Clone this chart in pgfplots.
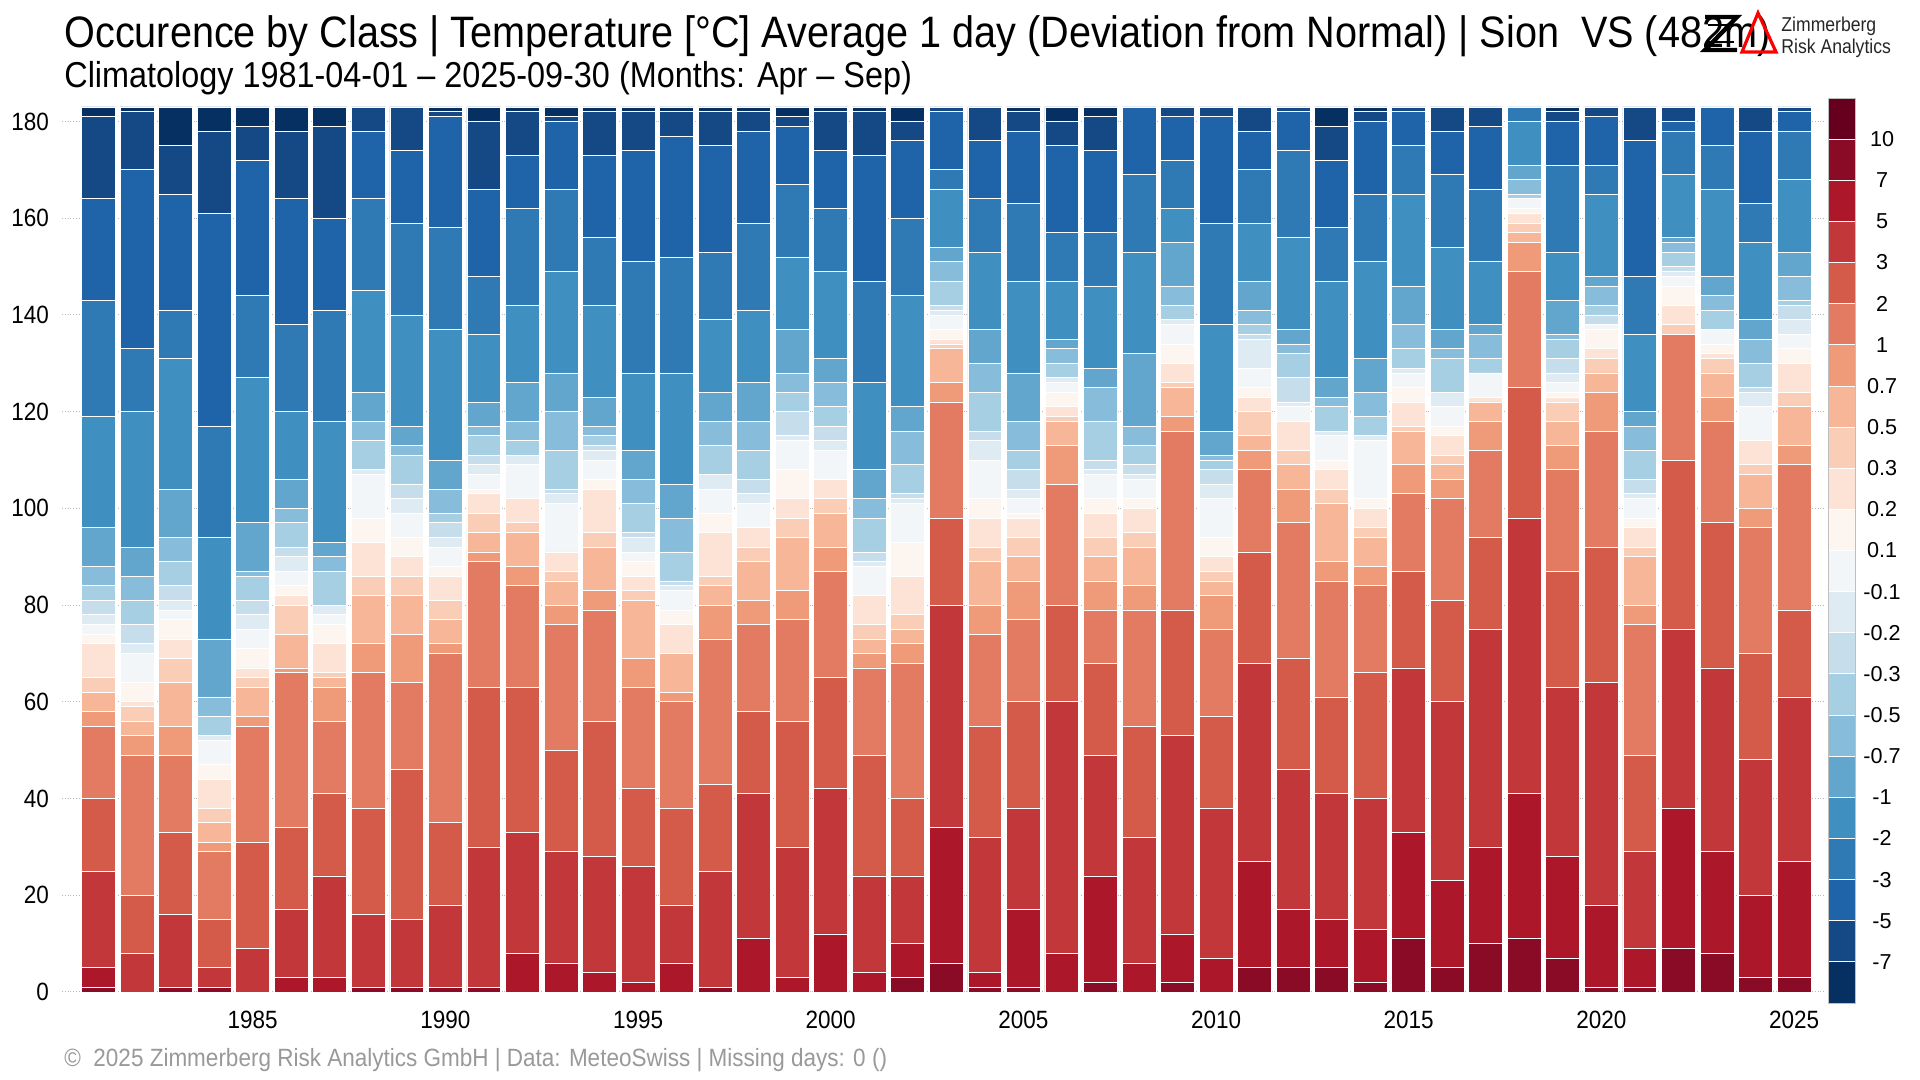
\documentclass[border=0pt]{standalone}
\usepackage{fontspec}
\setmainfont{Liberation Sans}[FakeStretch=0.9]
\newfontfamily\plainfont{Liberation Sans}
\newfontfamily\logofont{Liberation Sans}[FakeStretch=0.88]
\usepackage{pgfplots}
\pgfplotsset{compat=1.18}
\usepackage{pgfplotstable}

% class colours, warmest (>10) to coldest (<-7)
\definecolor{cl1}{HTML}{67001F}
\definecolor{cl2}{HTML}{8A0B25}
\definecolor{cl3}{HTML}{AC1729}
\definecolor{cl4}{HTML}{C1373A}
\definecolor{cl5}{HTML}{D45A4A}
\definecolor{cl6}{HTML}{E27B62}
\definecolor{cl7}{HTML}{EF9B7A}
\definecolor{cl8}{HTML}{F6B697}
\definecolor{cl9}{HTML}{F9CDB6}
\definecolor{cl10}{HTML}{FCE3D6}
\definecolor{cl11}{HTML}{FDF5F0}
\definecolor{cl12}{HTML}{F3F6F9}
\definecolor{cl13}{HTML}{DEEBF3}
\definecolor{cl14}{HTML}{C6DEEC}
\definecolor{cl15}{HTML}{A7CFE4}
\definecolor{cl16}{HTML}{87BDDA}
\definecolor{cl17}{HTML}{62A6CE}
\definecolor{cl18}{HTML}{3F8FC1}
\definecolor{cl19}{HTML}{2F79B5}
\definecolor{cl20}{HTML}{1F63A8}
\definecolor{cl21}{HTML}{144985}
\definecolor{cl22}{HTML}{053061}

% days per class and year (Apr-Sep, 183 days)
\pgfplotstableread{
year c1 c2 c3 c4 c5 c6 c7 c8 c9 c10 c11 c12 c13 c14 c15 c16 c17 c18 c19 c20 c21 c22
1981 0 1 4 20 15 15 3 4 3 7 2 2 2 3 3 4 8 23 24 21 17 2
1982 0 0 0 8 12 29 4 3 3 1 4 6 2 4 5 5 6 28 13 37 12 1
1983 0 1 0 15 17 16 6 9 5 4 4 2 2 3 5 5 10 27 10 24 10 8
1984 0 1 0 4 10 14 2 4 3 6 3 5 1 0 4 4 12 21 23 44 17 5
1985 0 0 0 9 22 24 2 6 2 2 4 4 3 3 5 1 10 30 17 28 7 4
1986 0 0 3 14 17 32 1 7 6 2 2 3 3 2 5 3 6 14 18 26 14 5
1987 0 0 3 21 17 15 7 2 1 6 4 2 2 0 7 3 3 25 23 19 19 4
1988 0 1 0 15 22 28 6 10 4 7 5 9 1 0 6 4 6 21 19 14 5 0
1989 0 1 0 14 31 18 10 8 4 4 4 5 3 3 6 2 4 23 19 15 9 0
1990 0 1 0 17 17 35 2 5 4 5 2 4 2 3 2 5 6 27 21 23 1 1
1991 0 1 0 29 33 26 2 4 4 4 1 3 2 2 4 2 5 14 12 18 14 3
1992 0 0 8 25 30 21 4 7 2 5 0 7 2 0 3 4 8 16 20 11 9 1
1993 0 0 6 23 21 26 4 5 2 4 0 10 2 1 8 8 8 21 17 14 1 2
1994 0 0 4 24 28 23 4 9 3 9 2 4 2 1 2 2 6 19 14 17 9 1
1995 0 0 2 24 16 21 6 12 2 3 3 2 3 1 6 5 6 16 23 23 8 1
1996 0 0 6 12 20 22 2 8 0 6 3 4 1 1 6 7 7 23 24 25 5 1
1997 0 1 0 24 18 30 7 4 2 9 4 5 3 0 6 5 6 15 14 22 7 1
1998 0 0 11 30 17 18 5 8 3 4 0 5 2 3 6 6 8 15 18 19 4 1
1999 0 0 3 27 26 21 6 11 4 4 6 6 1 5 4 4 9 15 15 12 2 2
2000 0 0 12 30 23 22 5 7 3 4 0 6 2 3 4 5 5 18 13 12 8 1
2001 0 0 4 20 25 18 3 3 3 6 0 6 1 2 7 4 6 18 21 26 9 1
2002 0 3 7 14 16 28 4 3 3 8 7 8 1 1 6 7 5 23 16 16 4 3
2003 0 6 28 46 18 24 4 7 1 1 2 3 1 1 5 4 3 12 4 12 1 0
2004 0 1 3 28 23 19 6 9 3 6 4 8 4 2 8 6 7 16 11 12 7 0
2005 0 1 16 21 22 17 8 5 4 4 1 3 2 4 4 6 10 19 16 15 4 1
2006 0 0 8 52 20 25 8 5 1 2 3 2 1 0 3 3 2 12 10 18 5 3
2007 0 2 22 25 19 11 6 5 4 5 3 5 1 2 8 7 4 17 11 17 7 2
2008 0 0 6 26 23 24 5 8 3 5 2 4 1 2 4 4 15 21 16 14 0 0
2009 0 2 10 41 26 37 3 6 1 4 4 4 1 0 3 4 9 7 10 9 2 0
2010 0 0 7 31 19 18 7 3 2 3 4 8 3 3 2 1 5 22 21 22 2 0
2011 0 5 22 41 23 17 4 3 5 3 2 4 6 1 2 3 6 12 11 8 5 0
2012 0 5 12 29 23 28 7 5 3 6 0 3 1 5 5 2 3 19 18 8 1 0
2013 0 5 10 26 20 24 4 12 3 4 2 5 1 0 5 2 4 20 11 14 7 4
2014 0 2 11 27 26 18 4 6 2 4 2 12 1 0 4 5 7 20 14 15 2 1
2015 0 11 22 34 20 16 6 7 1 5 3 3 1 0 4 5 8 19 10 7 1 0
2016 0 5 18 37 21 21 4 3 2 4 2 4 3 0 7 2 4 17 15 9 5 0
2017 0 10 20 45 19 18 6 4 0 1 0 5 0 0 3 5 2 13 15 13 4 0
2018 0 11 30 57 27 24 6 2 2 2 1 2 0 0 1 3 3 9 3 0 0 0
2019 0 7 21 35 24 21 5 5 4 1 1 2 2 3 4 1 7 10 18 9 2 1
2020 0 1 17 46 28 24 8 4 3 2 4 1 0 2 2 4 2 17 6 10 2 0
2021 0 1 8 20 20 27 4 10 2 4 2 4 1 3 6 5 3 16 12 28 7 0
2022 0 9 29 37 35 26 0 0 2 4 4 2 1 1 3 2 1 13 9 2 3 0
2023 0 8 21 38 30 21 5 5 3 1 2 3 0 0 4 3 4 18 9 8 0 0
2024 0 3 17 28 22 26 4 7 2 5 0 7 3 1 5 5 4 16 8 15 5 0
2025 0 3 24 34 18 30 4 8 3 6 3 3 3 3 1 5 5 15 10 4 1 0
}\classdata

\begin{document}
\begin{tikzpicture}
\useasboundingbox (0,0) rectangle (960pt,540pt);

\begin{axis}[
    at={(31pt,44pt)}, anchor=south west,
    scale only axis, width=882pt, height=442.5pt,
    xmin=1980.05, xmax=2025.83, ymin=0, ymax=183,
    ybar stacked, bar width=0.88,
    axis line style={draw=none},
    major tick length=0pt,
    xtick={1985,1990,...,2025},
    ytick={0,20,...,180},
    ymajorgrids,
    grid style={densely dotted, color=black!28, line width=0.5pt},
    tick label style={font=\fontsize{12.5}{13}\selectfont, text=black},
    /pgf/number format/assume math mode=true,
    /pgf/number format/1000 sep={},
    xticklabel style={yshift=-6pt},
    yticklabel style={xshift=-3pt},
]
\pgfplotsinvokeforeach{1,...,22}{
  \addplot[fill=cl#1, draw=white, line width=0.4pt] table[x=year, y=c#1] {\classdata};
}
\end{axis}

% overlay in pixel units, origin top left
\begin{scope}[x=0.5pt, y=-0.5pt, shift={(0,540pt)}]
  % colour key
  \foreach \i in {1,...,22}
    \fill[cl\i, draw=white, line width=0.4pt]
      (1828,{98+(\i-1)*41.136}) rectangle (1855,{98+\i*41.136});
  \draw[black!25, line width=0.4pt] (1828,98) rectangle (1855,1003);
  \foreach \l [count=\i] in {10,7,5,3,2,1,0.7,0.5,0.3,0.2,0.1,-0.1,-0.2,-0.3,-0.5,-0.7,-1,-2,-3,-5,-7}
    \node[font=\plainfont\fontsize{10.8}{12}\selectfont] at (1882,{98+\i*41.136}) {\l};

  % titles
  \node[anchor=base west, inner sep=0, font=\fontsize{22}{25}\selectfont] at (64,48)
    {Occurence by Class | Temperature [°C] Average 1 day (Deviation from Normal) | Sion\ \ VS (482m)};
  \node[anchor=base west, inner sep=0, font=\fontsize{18}{21}\selectfont] at (64,88)
    {Climatology 1981-04-01 – 2025-09-30 (Months: Apr – Sep)};

  % footer
  \node[anchor=base west, inner sep=0, text=black!40, font=\fontsize{12.5}{14}\selectfont] at (64,1067)
    {©\ \ 2025 Zimmerberg Risk Analytics GmbH | Data: MeteoSwiss | Missing days: 0 ()};

  % logo
  \draw[line width=2.2pt, line join=miter] (1705,17) -- (1737,17) -- (1705,50) -- (1737,50);
  \draw[line width=0.8pt] (1708,25) -- (1734,25) (1708,42) -- (1734,42);
  \draw[red, line width=1.6pt, line join=miter] (1742,52) -- (1758,13) -- (1776,52) -- cycle;
  \node[anchor=base west, inner sep=0, text=black!85, font=\logofont\fontsize{10}{12}\selectfont] at (1781,32) {Zimmerberg};
  \node[anchor=base west, inner sep=0, text=black!85, font=\logofont\fontsize{10}{12}\selectfont] at (1781,54) {Risk Analytics};
\end{scope}
\end{tikzpicture}
\end{document}
